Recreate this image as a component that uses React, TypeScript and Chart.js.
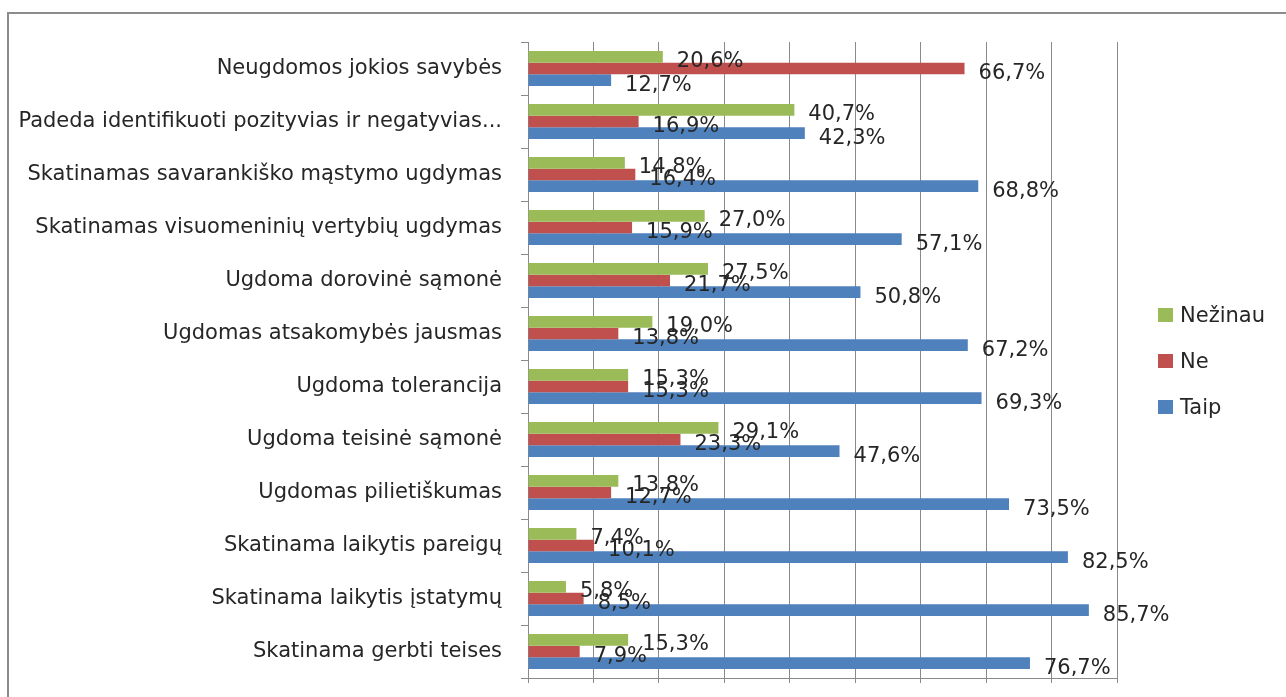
import React, { useEffect, useRef } from "react";
import { Chart, registerables } from "chart.js";

Chart.register(...registerables);

const categories = [
  "Neugdomos jokios savybės",
  "Padeda identifikuoti pozityvias ir negatyvias...",
  "Skatinamas savarankiško mąstymo ugdymas",
  "Skatinamas visuomeninių vertybių ugdymas",
  "Ugdoma dorovinė sąmonė",
  "Ugdomas atsakomybės jausmas",
  "Ugdoma tolerancija",
  "Ugdoma teisinė sąmonė",
  "Ugdomas pilietiškumas",
  "Skatinama laikytis pareigų",
  "Skatinama laikytis įstatymų",
  "Skatinama gerbti teises",
];

const nezinau = [20.6, 40.7, 14.8, 27.0, 27.5, 19.0, 15.3, 29.1, 13.8, 7.4, 5.8, 15.3];
const ne = [66.7, 16.9, 16.4, 15.9, 21.7, 13.8, 15.3, 23.3, 12.7, 10.1, 8.5, 7.9];
const taip = [12.7, 42.3, 68.8, 57.1, 50.8, 67.2, 69.3, 47.6, 73.5, 82.5, 85.7, 76.7];

const seriesNames = ["Nežinau", "Ne", "Taip"];
const seriesColors = ["#9BBB59", "#C0504D", "#4F81BD"];

const FONT = "'DejaVu Sans', sans-serif";
const TEXT = "#262626";
const GRID = "#8a8a8a";

const fmt = (v: number) => v.toFixed(1).replace(".", ",") + "%";

const dataLabelPlugin = {
  id: "dataLabels",
  afterDatasetsDraw(chart: any) {
    const ctx = chart.ctx;
    ctx.save();
    ctx.font = `21px ${FONT}`;
    ctx.fillStyle = TEXT;
    ctx.textAlign = "left";
    ctx.textBaseline = "alphabetic";
    chart.data.datasets.forEach((ds: any, i: number) => {
      const meta = chart.getDatasetMeta(i);
      meta.data.forEach((bar: any, j: number) => {
        ctx.fillText(fmt(ds.data[j]), bar.x + 14, bar.y + 10.5);
      });
    });
    ctx.restore();
  },
};

const legendPlugin = {
  id: "customLegend",
  afterDraw(chart: any) {
    const ctx = chart.ctx;
    ctx.save();
    ctx.font = `21px ${FONT}`;
    ctx.textAlign = "left";
    ctx.textBaseline = "alphabetic";
    chart.data.datasets.forEach((ds: any, i: number) => {
      const top = 308 + i * 46;
      ctx.fillStyle = ds.backgroundColor;
      ctx.fillRect(1158, top, 15, 14);
      ctx.fillStyle = TEXT;
      ctx.fillText(ds.label, 1180, top + 14);
    });
    ctx.restore();
  },
};

const bgPlugin = {
  id: "bg",
  beforeDraw(chart: any) {
    const ctx = chart.ctx;
    ctx.save();
    ctx.fillStyle = "#ffffff";
    ctx.fillRect(0, 0, chart.width, chart.height);
    ctx.strokeStyle = "#8c8c8c";
    ctx.lineWidth = 2;
    ctx.beginPath();
    ctx.moveTo(8, chart.height);
    ctx.lineTo(8, 13);
    ctx.lineTo(chart.width, 13);
    ctx.stroke();
    ctx.restore();
  },
};

export default function App() {
  const ref = useRef<HTMLCanvasElement | null>(null);

  useEffect(() => {
    if (!ref.current) return;
    const seriesData = [nezinau, ne, taip];
    const chart = new Chart(ref.current, {
      type: "bar",
      data: {
        labels: categories,
        datasets: seriesNames.map((name, i) => ({
          label: name,
          data: seriesData[i],
          backgroundColor: seriesColors[i],
          borderWidth: 0,
          categoryPercentage: 0.66,
          barPercentage: 1.0,
        })),
      },
      options: {
        indexAxis: "y",
        animation: false,
        responsive: false,
        maintainAspectRatio: false,
        layout: { padding: { top: 42, right: 169, bottom: 0, left: 0 } },
        plugins: {
          legend: { display: false },
          tooltip: { enabled: false },
          title: { display: false },
        },
        scales: {
          x: {
            min: 0,
            max: 90,
            ticks: { display: false, stepSize: 10 },
            grid: { color: GRID, drawTicks: true, tickLength: 5, lineWidth: 1 },
            border: { display: true, color: GRID },
            afterFit: (scale: any) => {
              scale.height = 19;
              scale.paddingLeft = 0;
              scale.paddingRight = 0;
            },
          },
          y: {
            ticks: {
              autoSkip: false,
              padding: 19,
              color: TEXT,
              font: { family: FONT, size: 21 },
            },
            grid: {
              offset: true,
              drawOnChartArea: false,
              drawTicks: true,
              tickLength: 7,
              color: GRID,
            },
            border: { display: true, color: GRID },
            afterFit: (scale: any) => {
              scale.width = 528;
              scale.paddingTop = 0;
              scale.paddingBottom = 0;
            },
          },
        },
      },
      plugins: [bgPlugin, dataLabelPlugin, legendPlugin],
    } as any);
    return () => chart.destroy();
  }, []);

  return (
    <div style={{ position: "fixed", left: 0, top: 0, width: 1286, height: 697, background: "#fff" }}>
      <canvas ref={ref} width={1286} height={697} style={{ display: "block" }} />
    </div>
  );
}
